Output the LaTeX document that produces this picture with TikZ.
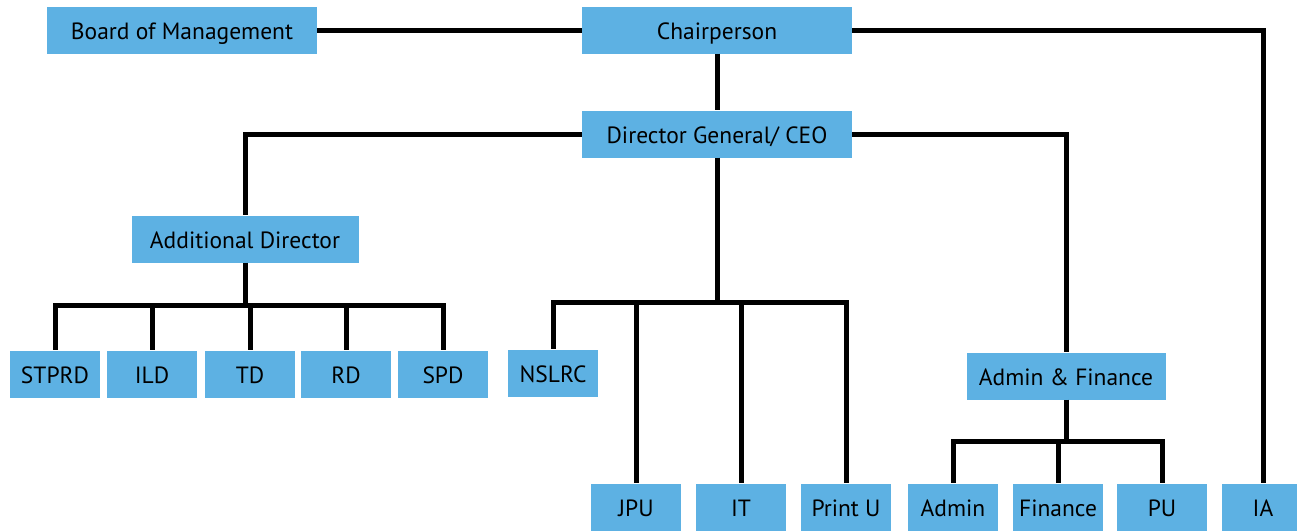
\documentclass[tikz,border=0pt]{standalone}
\usepackage{fontspec}
\setmainfont{PT Sans}
\usepackage{color}
\definecolor{myskyblue}{RGB}{93,177,227}
\usepackage{tikz}
\usetikzlibrary{calc,positioning}
\tikzstyle{unit}=[fill=myskyblue,minimum width=90pt,minimum height=47pt,inner sep=0pt,text height=19pt,text depth=0pt,font=\fontsize{23.5}{27}\selectfont]
\tikzstyle{link}=[draw,line width=5pt]

\begin{document}
\begin{tikzpicture}[x=1pt,y=-1pt]
\useasboundingbox (0,0) rectangle (1297,530);
% top levels
\node [unit,minimum width=270pt] (bom) at (182,30) {Board of Management};
\node [unit,minimum width=270pt] (chair) at (717,30) {Chairperson};
\node [unit,minimum width=270pt] (dg) at (717,134) {Director General/ CEO};
\node [unit,minimum width=227pt] (ad) at (245,239) {Additional Director};
\node [unit,minimum width=199pt] (af) at (1066,376) {Admin \& Finance};
% divisions
\node [unit] (stprd) at (55,374) {STPRD};
\node [unit] (ild) at (152,374) {ILD};
\node [unit] (td) at (250,374) {TD};
\node [unit] (rd) at (346,374) {RD};
\node [unit] (spd) at (443,374) {SPD};
\node [unit] (nslrc) at (553,373) {NSLRC};
% units
\node [unit] (jpu) at (636,507) {JPU};
\node [unit] (it) at (741,507) {IT};
\node [unit] (printu) at (846,507) {Print U};
\node [unit] (admin) at (953,507) {Admin};
\node [unit] (fin) at (1058,507) {Finance};
\node [unit] (pu) at (1162,507) {PU};
\node [unit,minimum width=82pt] (ia) at (1263,507) {IA};
% connectors
\draw [link] (bom) -- (chair);
\draw [link] (chair) -- (dg);
\draw [link] (chair.east) -| (ia.north);
\draw [link] (dg.west) -| (ad.north);
\draw [link] (dg.east) -| (af.north);
\draw [link] (ad.south) -- ++(0,43) coordinate (adbus);
\foreach \n in {stprd,ild,td,rd,spd}
  \draw [link] (adbus) -| (\n.north);
\draw [link] (dg.south) -- ++(0,145) coordinate (dgbus);
\foreach \n in {nslrc,jpu,it,printu}
  \draw [link] (dgbus) -| (\n.north);
\draw [link] (af.south) -- ++(0,42) coordinate (afbus);
\foreach \n in {admin,fin,pu}
  \draw [link] (afbus) -| (\n.north);
\end{tikzpicture}
\end{document}
